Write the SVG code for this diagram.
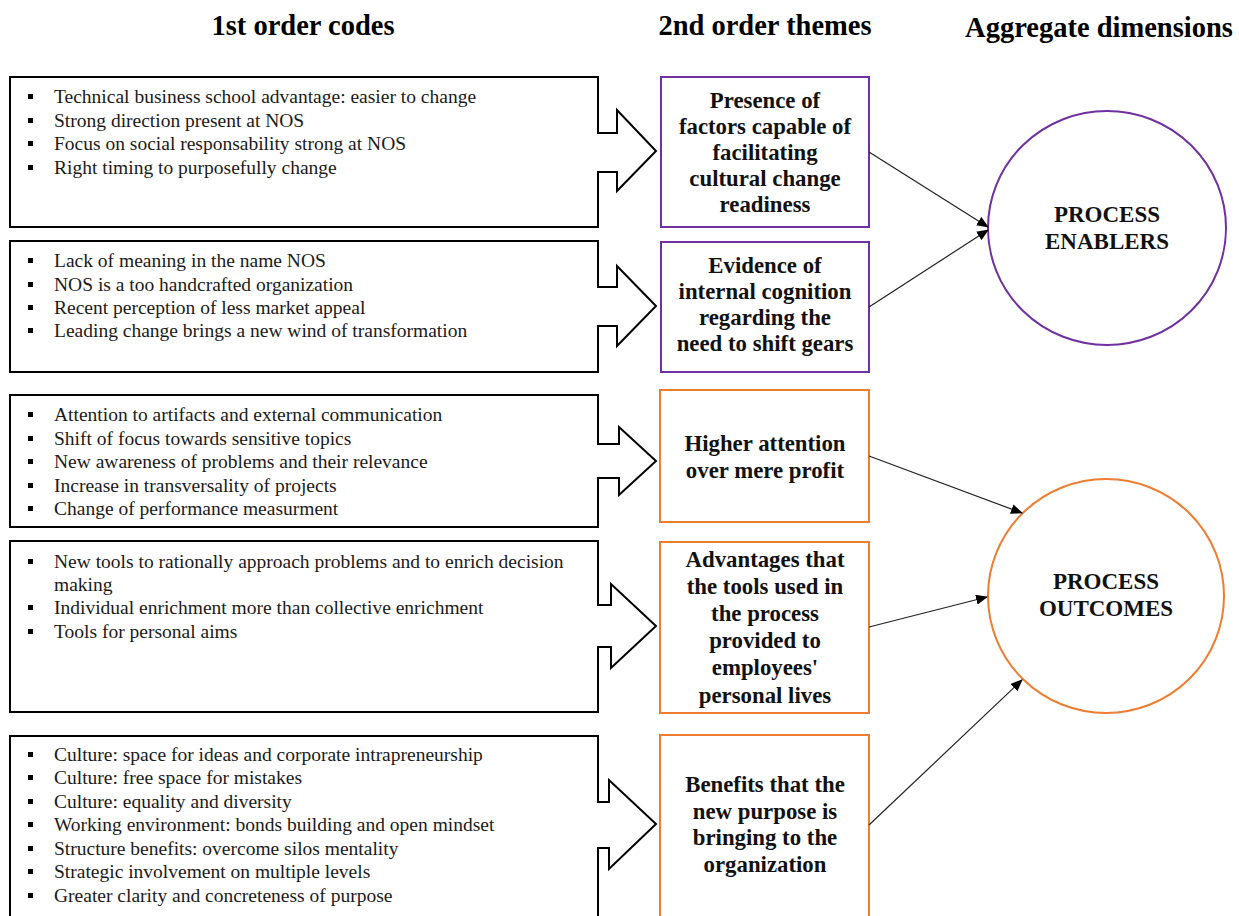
<svg xmlns="http://www.w3.org/2000/svg" width="1239" height="916" viewBox="0 0 1239 916">
<defs>
<marker id="ah" markerWidth="12" markerHeight="10" refX="11" refY="5" orient="auto" markerUnits="userSpaceOnUse">
<path d="M0,0 L12,5 L0,10 Z" fill="#000"/>
</marker>
<style>
.title{font-family:"Liberation Serif","Times New Roman",serif;font-weight:bold;font-size:28.5px;fill:#000;text-anchor:middle}
.code{font-family:"Liberation Serif","Times New Roman",serif;font-size:19.5px;fill:#1a1a1a}
.theme{font-family:"Liberation Serif","Times New Roman",serif;font-weight:bold;font-size:22.8px;fill:#111;text-anchor:middle}
.dim{font-family:"Liberation Serif","Times New Roman",serif;font-weight:bold;font-size:23px;fill:#111;text-anchor:middle}
.abox{fill:#fff;stroke:#000;stroke-width:2}
.pbox{fill:#fff;stroke:#7030A0;stroke-width:2}
.obox{fill:#fff;stroke:#ED7D31;stroke-width:2}
.bul{fill:#000}
.conn{stroke:#222;stroke-width:1.2;fill:none;marker-end:url(#ah)}
</style>
</defs>
<rect width="1239" height="916" fill="#fff"/>

<g id="titles">
<text class="title" x="303" y="35">1st order codes</text>
<text class="title" x="765" y="35">2nd order themes</text>
<text class="title" x="1099" y="37">Aggregate dimensions</text>
</g>

<g id="codes1">
<polygon class="abox" points="10,77 598,77 598,133 617,133 617,110 656,151 617,191 617,172 598,172 598,227 10,227"/>
<rect class="bul" x="28" y="94" width="5" height="5"/><text class="code" x="54" y="103">Technical business school advantage: easier to change</text>
<rect class="bul" x="28" y="118" width="5" height="5"/><text class="code" x="54" y="127">Strong direction present at NOS</text>
<rect class="bul" x="28" y="141" width="5" height="5"/><text class="code" x="54" y="150">Focus on social responsability strong at NOS</text>
<rect class="bul" x="28" y="165" width="5" height="5"/><text class="code" x="54" y="174">Right timing to purposefully change</text>
</g>

<g id="codes2">
<polygon class="abox" points="10,241 598,241 598,287 617,287 617,266 656,306 617,346 617,326 598,326 598,372 10,372"/>
<rect class="bul" x="28" y="258" width="5" height="5"/><text class="code" x="54" y="267">Lack of meaning in the name NOS</text>
<rect class="bul" x="28" y="282" width="5" height="5"/><text class="code" x="54" y="291">NOS is a too handcrafted organization</text>
<rect class="bul" x="28" y="305" width="5" height="5"/><text class="code" x="54" y="314">Recent perception of less market appeal</text>
<rect class="bul" x="28" y="328" width="5" height="5"/><text class="code" x="54" y="337">Leading change brings a new wind of transformation</text>
</g>

<g id="codes3">
<polygon class="abox" points="10,395 598,395 598,444 619,444 619,427 656,461 619,495 619,478 598,478 598,527 10,527"/>
<rect class="bul" x="28" y="412" width="5" height="5"/><text class="code" x="54" y="421">Attention to artifacts and external communication</text>
<rect class="bul" x="28" y="436" width="5" height="5"/><text class="code" x="54" y="445">Shift of focus towards sensitive topics</text>
<rect class="bul" x="28" y="459" width="5" height="5"/><text class="code" x="54" y="468">New awareness of problems and their relevance</text>
<rect class="bul" x="28" y="483" width="5" height="5"/><text class="code" x="54" y="492">Increase in transversality of projects</text>
<rect class="bul" x="28" y="506" width="5" height="5"/><text class="code" x="54" y="515">Change of performance measurment</text>
</g>

<g id="codes4">
<polygon class="abox" points="10,541 598,541 598,605 611,605 611,584 656,626 611,668 611,647 598,647 598,712 10,712"/>
<rect class="bul" x="28" y="559" width="5" height="5"/><text class="code" x="54" y="568">New tools to rationally approach problems and to enrich decision</text>
<text class="code" x="54" y="591">making</text>
<rect class="bul" x="28" y="605" width="5" height="5"/><text class="code" x="54" y="614">Individual enrichment more than collective enrichment</text>
<rect class="bul" x="28" y="629" width="5" height="5"/><text class="code" x="54" y="638">Tools for personal aims</text>
</g>

<g id="codes5">
<polygon class="abox" points="10,736 598,736 598,802 609,802 609,780 656,824 609,869 609,848 598,848 598,925 10,925"/>
<rect class="bul" x="28" y="752" width="5" height="5"/><text class="code" x="54" y="761">Culture: space for ideas and corporate intrapreneurship</text>
<rect class="bul" x="28" y="775" width="5" height="5"/><text class="code" x="54" y="784">Culture: free space for mistakes</text>
<rect class="bul" x="28" y="799" width="5" height="5"/><text class="code" x="54" y="808">Culture: equality and diversity</text>
<rect class="bul" x="28" y="822" width="5" height="5"/><text class="code" x="54" y="831">Working environment: bonds building and open mindset</text>
<rect class="bul" x="28" y="846" width="5" height="5"/><text class="code" x="54" y="855">Structure benefits: overcome silos mentality</text>
<rect class="bul" x="28" y="869" width="5" height="5"/><text class="code" x="54" y="878">Strategic involvement on multiple levels</text>
<rect class="bul" x="28" y="893" width="5" height="5"/><text class="code" x="54" y="902">Greater clarity and concreteness of purpose</text>
</g>

<g id="theme1">
<rect class="pbox" x="661" y="77" width="208" height="150"/>
<text class="theme" x="765" y="108">Presence of</text>
<text class="theme" x="765" y="134">factors capable of</text>
<text class="theme" x="765" y="160">facilitating</text>
<text class="theme" x="765" y="186">cultural change</text>
<text class="theme" x="765" y="212">readiness</text>
</g>

<g id="theme2">
<rect class="pbox" x="661" y="242" width="208" height="130"/>
<text class="theme" x="765" y="273">Evidence of</text>
<text class="theme" x="765" y="299">internal cognition</text>
<text class="theme" x="765" y="325">regarding the</text>
<text class="theme" x="765" y="351">need to shift gears</text>
</g>

<g id="theme3">
<rect class="obox" x="660" y="390" width="209" height="132"/>
<text class="theme" x="765" y="451">Higher attention</text>
<text class="theme" x="765" y="478">over mere profit</text>
</g>

<g id="theme4">
<rect class="obox" x="660" y="542" width="209" height="171"/>
<text class="theme" x="765" y="567">Advantages that</text>
<text class="theme" x="765" y="594">the tools used in</text>
<text class="theme" x="765" y="621">the process</text>
<text class="theme" x="765" y="648">provided to</text>
<text class="theme" x="765" y="675">employees'</text>
<text class="theme" x="765" y="703">personal lives</text>
</g>

<g id="theme5">
<rect class="obox" x="660" y="735" width="209" height="190"/>
<text class="theme" x="765" y="792">Benefits that the</text>
<text class="theme" x="765" y="819">new purpose is</text>
<text class="theme" x="765" y="845">bringing to the</text>
<text class="theme" x="765" y="872">organization</text>
</g>

<g id="enablers">
<ellipse cx="1107" cy="228" rx="119" ry="117" fill="#fff" stroke="#7030A0" stroke-width="2"/>
<text class="dim" x="1107" y="222">PROCESS</text>
<text class="dim" x="1107" y="249">ENABLERS</text>
</g>

<g id="outcomes">
<ellipse cx="1106" cy="596" rx="118" ry="117" fill="#fff" stroke="#ED7D31" stroke-width="2"/>
<text class="dim" x="1106" y="589">PROCESS</text>
<text class="dim" x="1106" y="616">OUTCOMES</text>
</g>

<g id="connectors">
<line class="conn" x1="869" y1="152" x2="988" y2="227"/>
<line class="conn" x1="869" y1="307" x2="988" y2="230"/>
<line class="conn" x1="869" y1="456" x2="1022" y2="513"/>
<line class="conn" x1="869" y1="627" x2="987" y2="597"/>
<line class="conn" x1="869" y1="825" x2="1022" y2="680"/>
</g>
</svg>
